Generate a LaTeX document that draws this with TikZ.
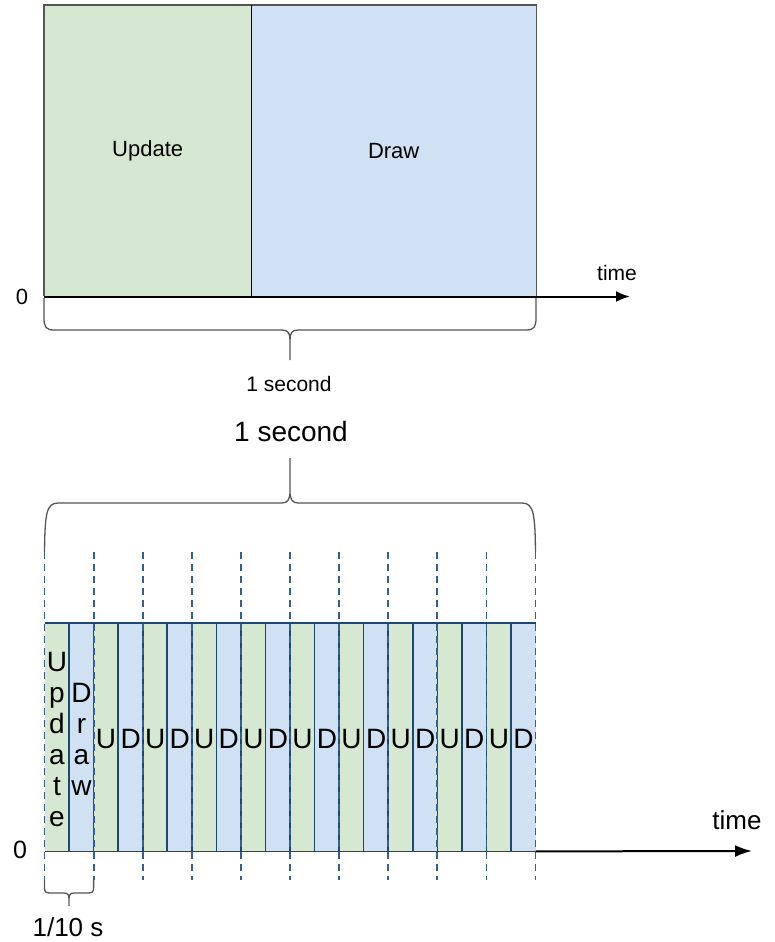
\documentclass[tikz,border=0pt]{standalone}
\usepackage{fontspec}
\setmainfont{Liberation Sans}
\usetikzlibrary{arrows.meta}
\definecolor{ugreen}{RGB}{214,232,210}
\definecolor{dblue}{RGB}{207,225,242}
\definecolor{slotline}{RGB}{30,72,112}
\definecolor{dashblue}{RGB}{55,95,140}
\definecolor{framegray}{RGB}{85,85,85}
\tikzset{
  topfont/.style={font=\fontsize{22}{26}\selectfont},
  slotfont/.style={font=\fontsize{28}{31}\selectfont},
  bracepath/.style={draw=framegray, line width=1.3pt},
  axisline/.style={draw=black, line width=2pt},
  slotbound/.style={draw=slotline, line width=1.6pt},
  dashbound/.style={draw=dashblue, line width=1.8pt, dash pattern=on 7pt off 5pt},
}
\begin{document}
\begin{tikzpicture}[x=1pt,y=-1pt]
\useasboundingbox (0,0) rectangle (774,942);

% ---------- top diagram ----------
\node[fill=ugreen, minimum width=207pt, minimum height=291pt, inner sep=0pt, anchor=north west, topfont] (upd) at (44,5) {Update};
\node[fill=dblue, minimum width=285pt, minimum height=291pt, inner sep=0pt, anchor=north west, topfont] (drw) at (251,5) {Draw};
\draw[framegray, line width=1.5pt] (upd.south west) -- (upd.north west) -- (drw.north east) -- (drw.south east);
\draw[black, line width=1.3pt] (upd.north east) -- (upd.south east);
\coordinate (ta) at (44,296.5);
\coordinate (tb) at (630,296.5);
\draw[axisline, -{Latex[length=14pt,width=11pt]}] (ta) -- (tb);
\node[topfont] (zero1) at (22,297) {0};
\node[font=\fontsize{21}{24}\selectfont] (time1) at (617,273) {time};
\draw[bracepath] (44,298) -- (44,318) .. controls (44,327) and (46,330) .. (54,330) -- (282,330)
  .. controls (288,330) and (290,333) .. (290,340) -- (290,360)
  (290,340) .. controls (290,333) and (292,330) .. (298,330) -- (526,330)
  .. controls (534,330) and (536,327) .. (536,318) -- (536,298);
\node[font=\fontsize{21}{24}\selectfont] (sec1) at (289,384) {1 second};

% ---------- bottom diagram ----------
\foreach \i in {0,...,19} {
  \pgfmathsetmacro\xx{44.5+\i*24.55}
  \pgfmathtruncatemacro\pr{mod(\i,2)}
  \ifnum\pr=0 \def\fc{ugreen}\else\def\fc{dblue}\fi
  \node[fill=\fc, minimum width=24.55pt, minimum height=228pt, inner sep=0pt, anchor=north west] (s\i) at (\xx,623) {};
}
\foreach \i in {1,...,19} {
  \draw[slotbound] (s\i.north west) -- (s\i.south west);
}
\draw[slotbound] (s0.north west) -- (s19.north east);
\draw[slotbound] (s0.south west) -- (s19.south east);
\foreach \k in {0,2,...,20} {
  \pgfmathsetmacro\xx{44.5+\k*24.55}
  \coordinate (da\k) at (\xx,552);
  \coordinate (db\k) at (\xx,880);
  \draw[dashbound] (da\k) -- (db\k);
}
% labels
\node[slotfont, align=center, inner sep=0pt] (lu) at ([yshift=-2pt]s0.center) {U\\p\\d\\a\\t\\e};
\node[slotfont, align=center, inner sep=0pt] (ld) at ([yshift=-2pt]s1.center) {D\\r\\a\\w};
\foreach \i in {2,...,19} {
  \pgfmathtruncatemacro\pr{mod(\i,2)}
  \ifnum\pr=0 \def\lt{U}\else\def\lt{D}\fi
  \node[slotfont, inner sep=0pt] (l\i) at ([yshift=-2pt]s\i.center) {\lt};
}
% axis
\coordinate (bb) at (752,851);
\draw[axisline, -{Latex[length=17pt,width=12pt]}] (s19.south east) -- (bb);
\node[font=\fontsize{25}{28}\selectfont] (zero2) at (20,850) {0};
\node[font=\fontsize{26}{28}\selectfont] (time2) at (737,820) {time};

% big brace
\draw[bracepath] (da0) .. controls (45,515) and (46,503) .. (58,503) -- (282,503)
  .. controls (288,503) and (290,499) .. (290,491) -- (290,458)
  (290,491) .. controls (290,499) and (292,503) .. (298,503) -- (522,503)
  .. controls (534,503) and (535,515) .. (da20);
\node[font=\fontsize{28}{32}\selectfont] (sec2) at (291,431) {1 second};

% small brace
\draw[bracepath] (db0) -- (44.5,888) .. controls (44.5,892) and (46,893) .. (50,893) -- (64,893)
  .. controls (68,893) and (69,895) .. (69,899) -- (69,906)
  (69,899) .. controls (69,895) and (70,893) .. (74,893) -- (88,893)
  .. controls (92,893) and (93.6,892) .. (93.6,888) -- (db2);
\node[font=\fontsize{26}{30}\selectfont, inner sep=1pt] (tenth) at (68,927) {1/10 s};
\end{tikzpicture}
\end{document}
